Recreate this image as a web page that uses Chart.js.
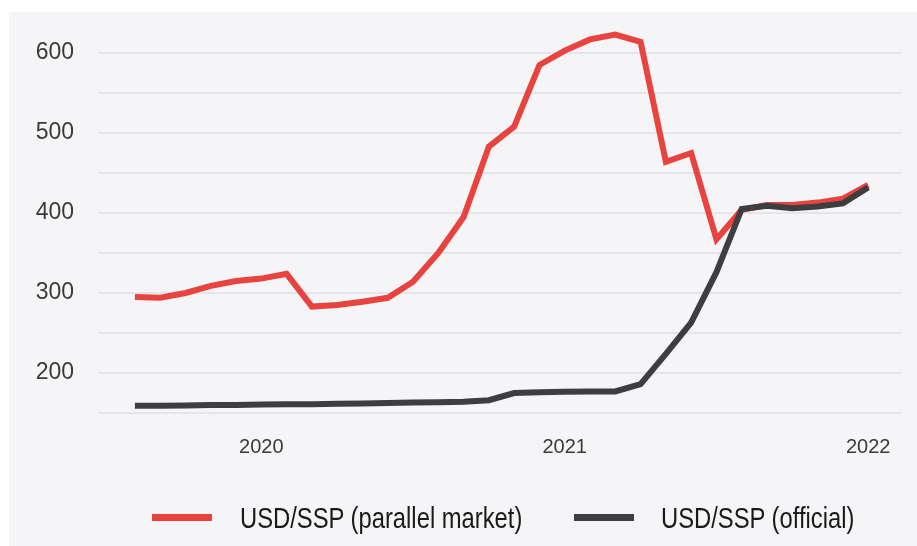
<!DOCTYPE html>
<html>
<head>
<meta charset="utf-8">
<script src="https://cdn.jsdelivr.net/npm/chart.js@4/dist/chart.umd.min.js"></script>
<style>
  html, body { margin: 0; padding: 0; background: #ffffff; }
  #wrap { position: relative; width: 917px; height: 546px; overflow: hidden; }
  #panel { position: absolute; left: 9px; top: 12px; right: 0; bottom: 0; background: #f5f5f7; }
  #c { position: absolute; left: 0; top: 0; }
  #legend { position: absolute; left: 0; top: 500px; width: 917px; height: 36px;
    font-family: 'Liberation Sans', Arial, sans-serif;
    font-size: 29px; color: #1a1a1a; }
  .swatch { position: absolute; top: 14px; width: 60px; height: 7px; }
  .label { position: absolute; top: 0; height: 36px; line-height: 36px; white-space: nowrap;
    transform: scaleX(0.82); transform-origin: 0 50%; }
</style>
</head>
<body>
<div id="wrap">
  <div id="panel"></div>
  <canvas id="c" width="917" height="546"></canvas>
  <div id="legend"></div>
</div>
<script>
// Monthly observations, Aug 2019 – Jan 2022
const months = [
  'Aug 2019','Sep 2019','Oct 2019','Nov 2019','Dec 2019',
  'Jan 2020','Feb 2020','Mar 2020','Apr 2020','May 2020','Jun 2020',
  'Jul 2020','Aug 2020','Sep 2020','Oct 2020','Nov 2020','Dec 2020',
  'Jan 2021','Feb 2021','Mar 2021','Apr 2021','May 2021','Jun 2021',
  'Jul 2021','Aug 2021','Sep 2021','Oct 2021','Nov 2021','Dec 2021',
  'Jan 2022'
];

const parallelRate = [
  295, 294, 300, 309, 315,
  318, 324, 283, 285, 289, 294,
  314, 350, 395, 483, 508, 585,
  603, 617, 623, 614, 464, 475,
  367, 404, 410, 410, 413, 418,
  435
];

const officialRate = [
  159, 159, 159.5, 160, 160,
  160.5, 161, 161, 161.5, 162, 162.5,
  163, 163.5, 164, 166, 175, 176,
  176.5, 177, 177, 186, 224, 263,
  326, 405, 409, 406, 408, 412,
  432
];

const seriesNames = ['USD/SSP (parallel market)', 'USD/SSP (official)'];
const seriesColors = ['#e8433f', '#3e3e40'];

// Year labels sit on each January
const yearTicks = months
  .map((m, i) => (m.startsWith('Jan') ? { value: i, label: m.slice(4) } : null))
  .filter(Boolean);

const yGridValues = [150, 200, 250, 300, 350, 400, 450, 500, 550, 600];
const yLabelValues = [200, 300, 400, 500, 600];

const toPoints = arr => arr.map((v, i) => ({ x: i, y: v }));

const tickFont = "'Liberation Sans', Arial, sans-serif";

new Chart(document.getElementById('c'), {
  type: 'line',
  data: {
    datasets: [
      {
        label: seriesNames[0],
        data: toPoints(parallelRate),
        borderColor: seriesColors[0],
        backgroundColor: seriesColors[0],
        borderWidth: 6,
        pointRadius: 0,
        tension: 0,
        order: 2
      },
      {
        label: seriesNames[1],
        data: toPoints(officialRate),
        borderColor: seriesColors[1],
        backgroundColor: seriesColors[1],
        borderWidth: 6,
        pointRadius: 0,
        tension: 0,
        order: 1
      }
    ]
  },
  options: {
    responsive: false,
    animation: false,
    layout: { padding: { top: 21, right: 16, left: 0, bottom: 0 } },
    plugins: { legend: { display: false }, tooltip: { enabled: false } },
    scales: {
      x: {
        type: 'linear',
        min: -1.46,
        max: 30.3,
        afterBuildTicks: s => { s.ticks = yearTicks.map(t => ({ value: t.value })); },
        afterFit: s => {
          s.height = 133;
          s.paddingLeft = 0; s.paddingRight = 0; s.paddingTop = 0; s.paddingBottom = 0;
        },
        border: { display: false },
        grid: { display: false, drawTicks: false },
        ticks: {
          autoSkip: false,
          maxRotation: 0,
          padding: 22,
          color: '#3a3a3a',
          font: { family: tickFont, size: 20 },
          callback: v => {
            const t = yearTicks.find(tt => tt.value === v);
            return t ? t.label : '';
          }
        }
      },
      y: {
        min: 150,
        max: 640,
        afterBuildTicks: s => { s.ticks = yGridValues.map(v => ({ value: v })); },
        afterFit: s => {
          s.width = 98;
          s.paddingLeft = 0; s.paddingRight = 0; s.paddingTop = 0; s.paddingBottom = 0;
        },
        border: { display: false },
        grid: { color: '#e5e5e9', lineWidth: 2, drawTicks: false },
        ticks: {
          padding: 24,
          color: '#3a3a3a',
          font: { family: tickFont, size: 23 },
          callback: v => (yLabelValues.includes(v) ? String(v) : '')
        }
      }
    }
  }
});

// Legend below the plot
const legendPos = [
  { swatch: 152, text: 240 },
  { swatch: 574, text: 661 }
];
const legend = document.getElementById('legend');
seriesNames.forEach((name, i) => {
  const sw = document.createElement('div');
  sw.className = 'swatch';
  sw.style.left = legendPos[i].swatch + 'px';
  sw.style.background = seriesColors[i];
  legend.appendChild(sw);
  const lb = document.createElement('div');
  lb.className = 'label';
  lb.style.left = legendPos[i].text + 'px';
  lb.textContent = name;
  legend.appendChild(lb);
});
</script>
</body>
</html>
